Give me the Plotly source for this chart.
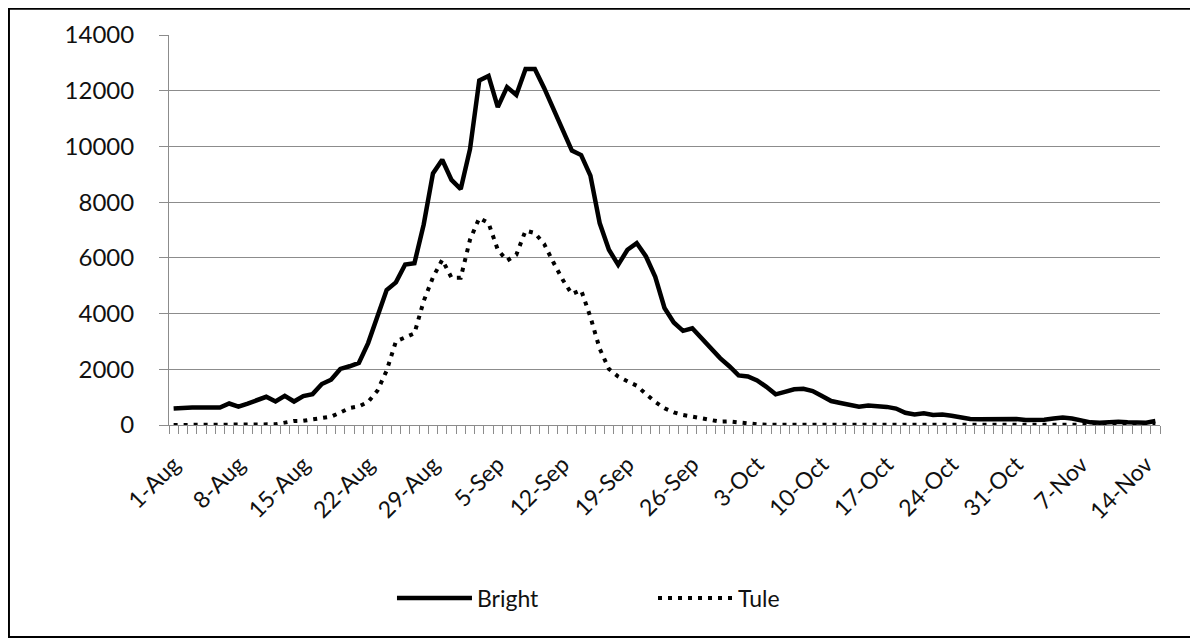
import datetime as dt
import plotly.graph_objects as go

start_date = "2010-08-01"
n_days = 107  # 1-Aug .. 15-Nov

bright = [590, 626, 626, 626, 626, 626, 771, 663, 771, 904,
          1012, 843, 1048, 843, 1036, 1108, 1470, 1627, 2012, 2108,
          2229, 2940, 3940, 4843, 5120, 5760, 5807, 7200, 9030, 9520,
          8800, 8470, 9900, 12370, 12530, 11410, 12130, 11850, 12780, 12780,
          12100, 11350, 10600, 9850, 9690, 8950, 7250, 6290, 5750, 6290,
          6530, 6050, 5320, 4200, 3680, 3380, 3470, 3110, 2740, 2400,
          2110, 1780, 1740, 1600, 1370, 1100, 1190, 1280, 1300, 1220,
          1040, 860, 790, 740, 660, 700, 680, 650, 590, 440,
          380, 420, 360, 380, 335, 275, 215, 205, 205, 215,
          230, 215, 180, 180, 190, 230, 265, 230, 145, 95,
          85, 110, 120, 95, 85, 85, 145]

tule = [0, 0, 0, 0, 0, 0, 0, 0, 0, 0,
        25, 25, 85, 145, 150, 205, 240, 300, 450, 610,
        670, 830, 1230, 1950, 3000, 3130, 3290, 4450, 5300, 5930,
        5290, 5290, 6650, 7430, 7250, 6290, 5900, 6110, 6980, 6890,
        6500, 5840, 5220, 4700, 4840, 3880, 2740, 2010, 1740, 1570,
        1410, 1110, 830, 600, 455, 360, 300, 263, 170, 120,
        130, 85, 50, 25, 10, 10, 10, 5, 5, 5,
        5, 5, 5, 5, 5, 5, 5, 5, 5, 5,
        5, 5, 5, 5, 5, 5, 5, 5, 5, 5,
        5, 5, 5, 5, 5, 5, 5, 5, 5, 5,
        5, 5, 5, 5, 5, 5, 5]

y_ticks = [0, 2000, 4000, 6000, 8000, 10000, 12000, 14000]

d0 = dt.date.fromisoformat(start_date)
dates = [d0 + dt.timedelta(days=i) for i in range(n_days)]

FONT = "Lato"
GRID = "#8c8c8c"
TXT = "#111111"

fig = go.Figure()
fig.add_trace(go.Scatter(x=dates, y=bright, name="Bright", mode="lines",
                         line=dict(color="black", width=4.5)))
fig.add_trace(go.Scatter(x=dates, y=tule, name="Tule", mode="lines",
                         line=dict(color="black", width=4, dash="4px,6px")))

x_lo = dt.datetime.combine(dates[0], dt.time()) - dt.timedelta(hours=12)
x_hi = dt.datetime.combine(dates[-1], dt.time()) + dt.timedelta(hours=12)

fig.update_layout(
    width=1190, height=633,
    margin=dict(l=161, r=38, t=27, b=216),
    paper_bgcolor="white", plot_bgcolor="white",
    font=dict(family=FONT, size=23, color=TXT),
    showlegend=True,
    legend=dict(orientation="h", x=0.225, xanchor="left", y=-0.4436, yanchor="middle",
                font=dict(family=FONT, size=23, color=TXT),
                itemwidth=75, tracegroupgap=0, entrywidth=171),
    shapes=[dict(type="rect", xref="paper", yref="paper",
                 x0=-0.1615, x1=1.0353, y0=-0.5436, y1=1.067,
                 line=dict(color="black", width=2), fillcolor="rgba(0,0,0,0)",
                 layer="below")],
)

fig.update_xaxes(
    type="date", range=[x_lo, x_hi],
    tick0=start_date, dtick=7 * 86400000, tickformat="%-d-%b",
    tickangle=-45, ticks="", showgrid=False,
    showline=True, linecolor=GRID, linewidth=1,
    minor=dict(tick0=x_lo, dtick=86400000, ticks="outside", ticklen=8,
               tickcolor=GRID, tickwidth=1, showgrid=False),
    ticklabelstandoff=16,
    tickfont=dict(family=FONT, size=23, color=TXT),
)
fig.update_yaxes(
    range=[0, 14000], tickvals=y_ticks, ticktext=[str(v) for v in y_ticks],
    showgrid=True, gridcolor=GRID, gridwidth=1,
    showline=True, linecolor=GRID, linewidth=1,
    ticks="outside", ticklen=9, tickcolor=GRID,
    ticklabelstandoff=20, zeroline=False,
    tickfont=dict(family=FONT, size=24, color=TXT),
)

fig.write_html("out.html")
